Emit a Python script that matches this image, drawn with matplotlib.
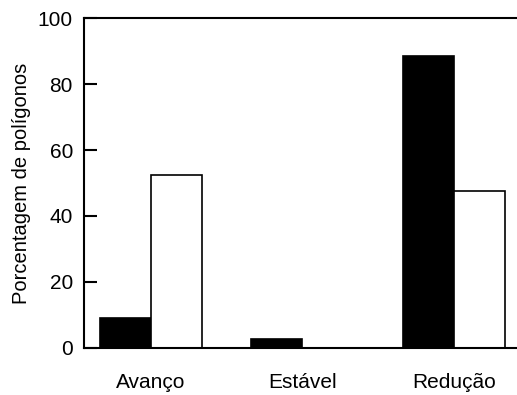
import matplotlib
matplotlib.use("Agg")
import matplotlib.pyplot as plt
import numpy as np

categories = ["Avanço", "Estável", "Redução"]
black_values = [9.1, 2.6, 88.6]
white_values = [52.4, 0.0, 47.6]
y_ticks = [0, 20, 40, 60, 80, 100]
ylabel = "Porcentagem de polígonos"

plt.rcParams['font.family'] = ['Liberation Sans', 'DejaVu Sans']

fig = plt.figure(figsize=(5.17, 3.95), dpi=100)
ax = fig.add_axes([84/517, 1-347.7/395, 1-84/517 + 0.05, (347.7-18.3)/395])

x = np.arange(len(categories))
w = 0.337
ax.bar(x - w/2, black_values, width=w, color="black", edgecolor="black", linewidth=1.2)
ax.bar(x + w/2, white_values, width=w, color="white", edgecolor="black", linewidth=1.2)

ax.set_xlim(-0.442, 2.416 + 0.05*517/151.5*1.0)
ax.set_ylim(0, 100)
ax.set_yticks(y_ticks)
ax.set_xticks(x)
ax.set_xticklabels(categories)
ax.tick_params(axis='y', direction='in', length=9, width=1.5, labelsize=15, pad=8)
ax.tick_params(axis='x', length=0, labelsize=15, pad=18)
ax.set_ylabel(ylabel, fontsize=14.5, labelpad=5)
ax.spines['right'].set_visible(False)
for s in ['top', 'bottom', 'left']:
    ax.spines[s].set_linewidth(1.5)

fig.savefig("out.png", dpi=100)
